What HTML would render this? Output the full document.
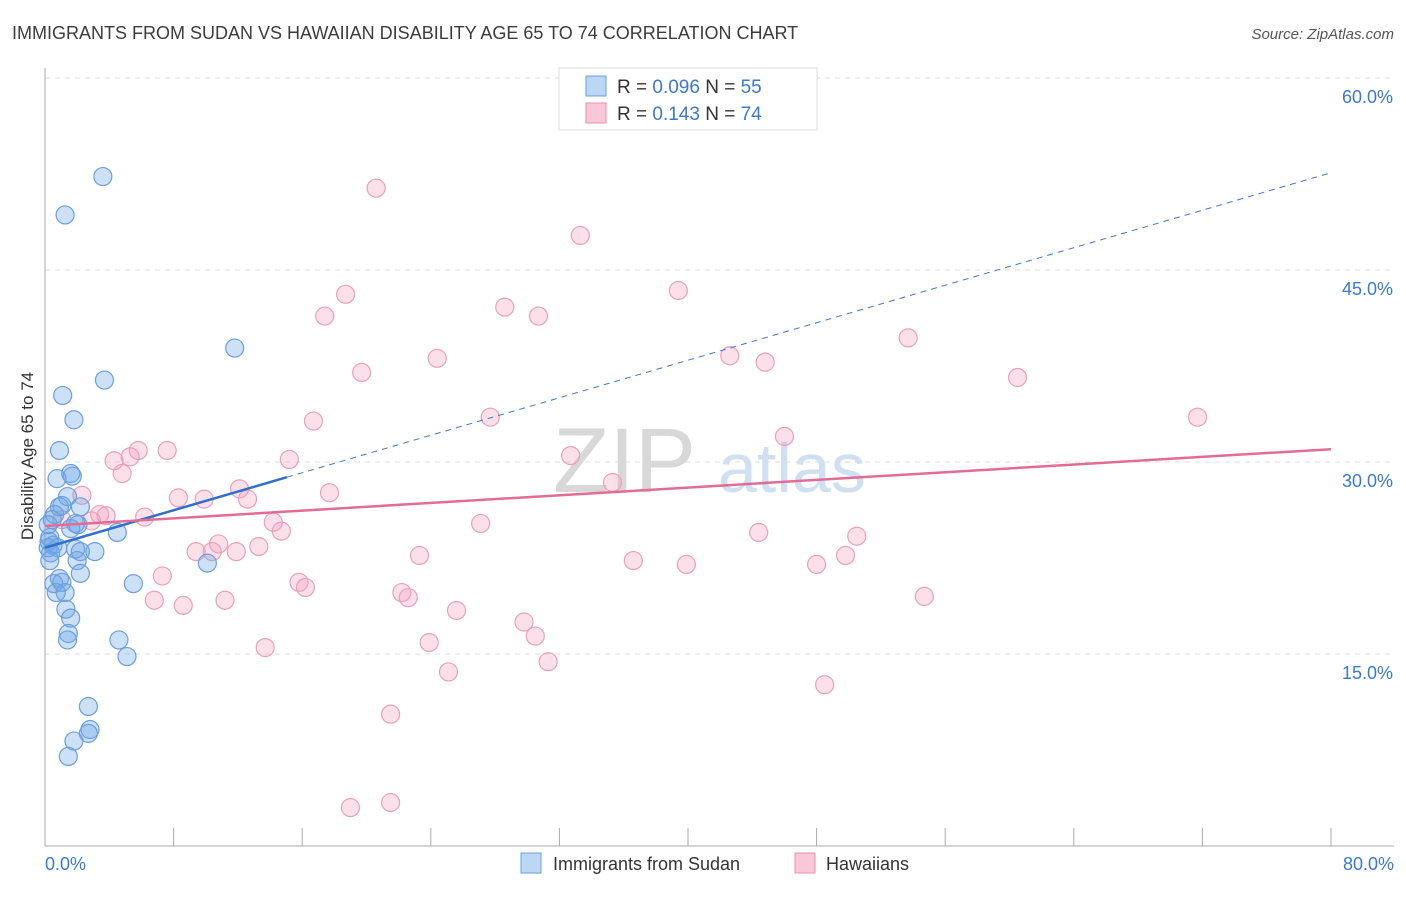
<!DOCTYPE html>
<html><head><meta charset="utf-8"><style>
body{margin:0;background:#fff;font-family:"Liberation Sans",sans-serif;}
svg text{font-family:"Liberation Sans",sans-serif;}
</style></head><body>
<svg id="chart" width="1406" height="892" xmlns="http://www.w3.org/2000/svg">
<text x="12" y="39" font-size="18" fill="#3c3c3c">IMMIGRANTS FROM SUDAN VS HAWAIIAN DISABILITY AGE 65 TO 74 CORRELATION CHART</text>
<text x="1394" y="39" font-size="15" font-style="italic" fill="#555" text-anchor="end">Source: ZipAtlas.com</text>
<text transform="translate(33,456) rotate(-90)" font-size="17" fill="#333" text-anchor="middle">Disability Age 65 to 74</text>
<g><text x="553" y="492" font-size="92" fill="#d8d8d8" font-family="Liberation Serif">ZIP</text><text x="718" y="492" font-size="70" fill="#cfe0f3">atlas</text></g>
<g id="grid"></g><g id="axes"></g><g id="marks"></g><g id="lines"></g>
<g>
<rect x="559" y="68" width="258" height="62" fill="#fff" stroke="#ddd"/>
<rect x="586" y="76" width="20" height="20" fill="#bcd6f5" stroke="#6a9fe0"/>
<text x="617" y="93" font-size="19" fill="#333">R = <tspan fill="#3a78d4">0.096</tspan>   N = <tspan fill="#3a78d4">55</tspan></text>
<rect x="586" y="103" width="20" height="20" fill="#f8c8d8" stroke="#e890b0"/>
<text x="617" y="120" font-size="19" fill="#333">R =  <tspan fill="#3a78d4">0.143</tspan>   N = <tspan fill="#3a78d4">74</tspan></text>
</g>
<g>
<rect x="521" y="853" width="20" height="20" fill="#bcd6f5" stroke="#6a9fe0"/>
<text x="553" y="870" font-size="18" fill="#333">Immigrants from Sudan</text>
<rect x="795" y="853" width="20" height="20" fill="#f8c8d8" stroke="#e890b0"/>
<text x="826" y="870" font-size="18" fill="#333">Hawaiians</text>
</g>
</svg>
<script>
const yTicks=[15,30,45,60];
const yTickLabels=["15.0%","30.0%","45.0%","60.0%"];
const xTicks=[0,8,16,24,32,40,48,56,64,72,80];
const sudanX=[3.6,1.25,11.8,3.7,1.1,1.8,0.9,1.6,1.7,0.75,1.4,1.05,0.9,2.2,0.6,0.45,1.9,2.05,1.6,4.5,0.3,0.25,0.5,0.8,1.9,2.2,3.1,0.35,2.0,10.1,2.2,0.9,1.05,0.55,5.5,0.7,1.25,1.3,1.6,1.45,1.4,4.6,5.1,2.7,2.8,2.7,1.8,1.45,0.2,0.2,0.3];
const sudanY=[52.3,49.3,38.9,36.4,35.2,33.3,30.9,29.1,28.9,28.7,27.3,26.6,26.5,26.5,25.9,25.5,25.2,25.1,24.8,24.5,24.1,23.8,23.5,23.3,23.2,23.0,23.0,22.9,22.3,22.1,21.3,20.9,20.6,20.5,20.5,19.8,19.8,18.5,17.8,16.6,16.1,16.1,14.8,10.9,9.1,8.8,8.2,7.0,25.1,23.3,22.3];
const hawX=[20.6,33.3,39.4,18.7,28.6,30.7,17.4,53.7,24.4,42.6,44.8,19.7,60.5,71.7,27.7,16.7,46.0,7.6,5.8,5.3,4.3,32.7,15.2,4.8,35.3,12.1,17.7,2.3,8.3,9.9,12.6,3.4,3.8,6.2,1.05,2.9,14.2,27.1,14.7,44.4,50.5,10.8,13.3,9.4,10.4,11.9,23.3,49.8,36.6,39.9,48.0,7.3,15.8,16.2,22.2,22.6,6.8,11.2,8.6,54.7,25.6,29.8,30.5,23.9,13.7,31.3,25.1,48.5,21.5,21.5,19.0];
const hawY=[51.4,47.7,43.4,43.1,42.1,41.4,41.4,39.7,38.1,38.3,37.8,37.0,36.6,33.5,33.5,33.2,32.0,30.9,30.9,30.4,30.1,30.5,30.2,29.1,28.4,27.9,27.6,27.4,27.2,27.1,27.1,25.9,25.8,25.7,25.5,25.4,25.3,25.2,24.6,24.5,24.2,23.6,23.4,23.0,23.0,23.0,22.7,22.7,22.3,22.0,22.0,21.1,20.6,20.2,19.8,19.4,19.2,19.2,18.8,19.5,18.4,17.5,16.4,15.9,15.5,14.4,13.6,12.6,10.3,3.4,3.0];
const sudanFit=[23.3,52.6]; // y at x=0, x=80
const sudanSolidEnd=15.05;
const hawFit=[25.0,31.0];
const NS="http://www.w3.org/2000/svg";
const xs=v=>45+v*16.075, ys=v=>846-v*12.8;
function mk(tag,parent,attrs){const e=document.createElementNS(NS,tag);for(const k in attrs)e.setAttribute(k,attrs[k]);document.getElementById(parent).appendChild(e);return e;}
yTicks.forEach((t,i)=>{
 const l=mk('line','grid',{x1:45,x2:1394,y1:ys(t),y2:ys(t),stroke:'#ddd','stroke-dasharray':'5,5'});
 
 
 const tx=mk('text','grid',{x:1393,y:ys(t)+25,'font-size':18,fill:'#3a78d4','text-anchor':'end'});
 tx.textContent=yTickLabels[i];
 
 
});
const ax=mk('line','axes',{x1:45,x2:45,y1:68,y2:846,stroke:'#aaa'});


const bx=mk('line','axes',{x1:45,x2:1394,y1:846,y2:846,stroke:'#aaa'});


xTicks.forEach(t=>{const l=mk('line','axes',{x1:xs(t),x2:xs(t),y1:828,y2:846,stroke:'#aaa'});
 
 });
const x0=mk('text','axes',{x:45,y:870,'font-size':18,fill:'#3a78d4'});x0.textContent='0.0%';


const x1=mk('text','axes',{x:1394,y:870,'font-size':18,fill:'#3a78d4','text-anchor':'end'});x1.textContent='80.0%';


hawX.forEach((v,i)=>{const c=mk('circle','marks',{cx:xs(v),cy:ys(hawY[i]),r:9,fill:'rgba(244,160,190,0.32)',stroke:'#eaa0bb','stroke-width':1.2});
 
 });
sudanX.forEach((v,i)=>{const c=mk('circle','marks',{cx:xs(v),cy:ys(sudanY[i]),r:9,fill:'rgba(110,165,230,0.35)',stroke:'#6a9fe0','stroke-width':1.2});
 
 });
const fy=(f,x)=>f[0]+(f[1]-f[0])*x/80;
const d=mk('line','lines',{x1:xs(sudanSolidEnd),y1:ys(fy(sudanFit,sudanSolidEnd)),x2:xs(80),y2:ys(fy(sudanFit,80)),stroke:'#3a78d4','stroke-width':1,'stroke-dasharray':'6,5'});


const s=mk('line','lines',{x1:xs(0),y1:ys(fy(sudanFit,0)),x2:xs(sudanSolidEnd),y2:ys(fy(sudanFit,sudanSolidEnd)),stroke:'#2f6fd0','stroke-width':2.5});


const h=mk('line','lines',{x1:xs(0),y1:ys(fy(hawFit,0)),x2:xs(80),y2:ys(fy(hawFit,80)),stroke:'#e46b95','stroke-width':2.5});


</script>
</body></html>
